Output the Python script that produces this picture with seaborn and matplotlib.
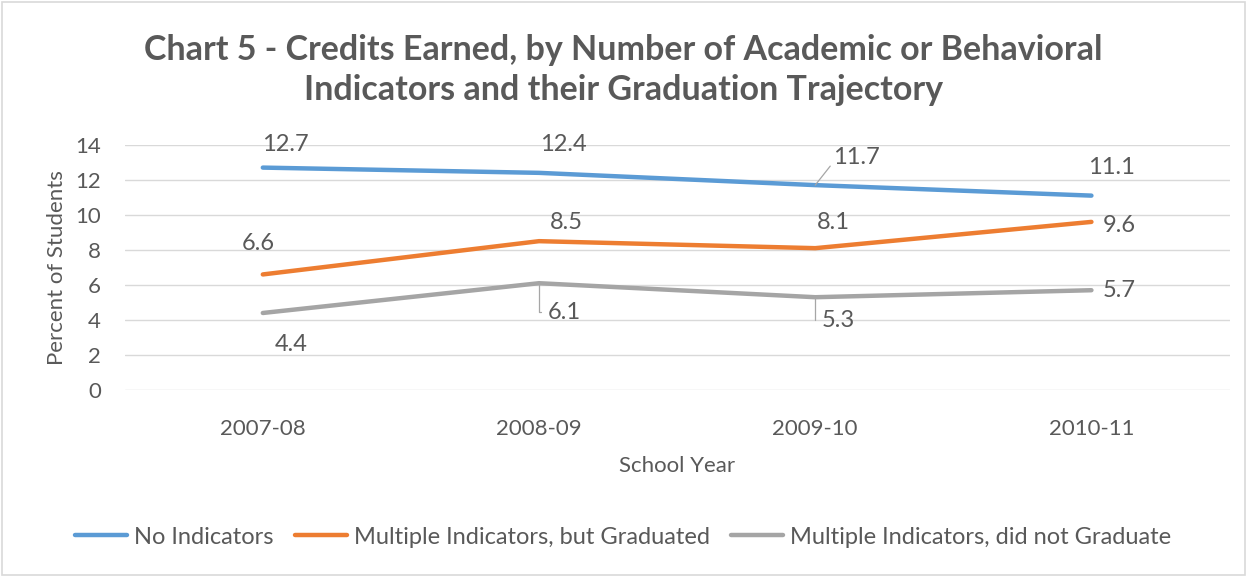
import pandas as pd
import matplotlib
matplotlib.use("Agg")
import matplotlib.pyplot as plt
import seaborn as sns

# data
years = ["2007-08", "2008-09", "2009-10", "2010-11"]
no_indicators = [12.7, 12.4, 11.7, 11.1]
multi_graduated = [6.6, 8.5, 8.1, 9.6]
multi_not_graduated = [4.4, 6.1, 5.3, 5.7]
series_names = ["No Indicators", "Multiple Indicators, but Graduated",
                "Multiple Indicators, did not Graduate"]
series_colors = ["#5B9BD5", "#ED7D31", "#A5A5A5"]

df = pd.DataFrame({
    "year": years * 3,
    "value": no_indicators + multi_graduated + multi_not_graduated,
    "series": [s for s in series_names for _ in years],
})

sns.set_theme(style="white")
plt.rcParams["font.family"] = ["Lato", "DejaVu Sans"]
text_color = "#595959"

fig = plt.figure(figsize=(12.47, 5.77), dpi=100)
ax = fig.add_axes([0.100, 0.324, 0.886, 0.425])

sns.lineplot(data=df, x="year", y="value", hue="series", palette=series_colors,
             linewidth=3.2, ax=ax, legend=True, sort=False)

ax.set_xlim(-0.5, 3.5)
ax.set_ylim(0, 14)
ax.set_yticks(range(0, 15, 2))
ax.yaxis.grid(True, color="#D9D9D9", linewidth=1)
ax.set_axisbelow(True)
for sp in ax.spines.values():
    sp.set_visible(False)
ax.tick_params(axis="both", length=0, labelsize=16, labelcolor=text_color)
ax.tick_params(axis="x", pad=21)
ax.tick_params(axis="y", pad=17)
ax.set_xlabel("School Year", fontsize=16, color=text_color, labelpad=12)
ax.set_ylabel("Percent of Students", fontsize=16, color=text_color, labelpad=6)

# data labels (pixel offsets from each point, leader flag)
label_offsets = {
    0: [(23, 23, False), (24, 28, False), (41, 28, True), (20, 28, False)],
    1: [(-4, 31, False), (27, 19, False), (18, 26, False), (28, -4, False)],
    2: [(28, -32, False), (25, -29, True), (23, -23, True), (28, 0, False)],
}
all_series = [no_indicators, multi_graduated, multi_not_graduated]
for si, vals in enumerate(all_series):
    for i, v in enumerate(vals):
        dx, dy, leader = label_offsets[si][i]
        ax.annotate(f"{v:.1f}", xy=(i, v), xytext=(dx, dy), textcoords="offset pixels",
                    ha="center", va="center", fontsize=17, color=text_color)
        if leader:
            if si == 0:
                ax.annotate("", xy=(i, v), xytext=(dx - 26, dy - 9),
                            textcoords="offset pixels",
                            arrowprops=dict(arrowstyle="-", color="#A6A6A6", lw=0.9,
                                            shrinkA=0, shrinkB=0))
            else:
                ax.annotate("", xy=(i, v), xytext=(dx - 23, dy),
                            textcoords="offset pixels",
                            arrowprops=dict(arrowstyle="-", color="#A6A6A6", lw=0.9,
                                            connectionstyle="angle,angleA=0,angleB=90,rad=0",
                                            shrinkA=0, shrinkB=0))

handles, labels = ax.get_legend_handles_labels()
ax.legend_.remove()
fig.legend(handles, labels, loc="center", bbox_to_anchor=(0.5, 0.069), ncol=3,
           frameon=False, fontsize=17, labelcolor=text_color, handlelength=2.2,
           handletextpad=0.3, columnspacing=0.9)

fig.text(0.5, 0.879, "Chart 5 - Credits Earned, by Number of Academic or Behavioral\n"
         "Indicators and their Graduation Trajectory",
         ha="center", va="center", fontsize=24.5, fontweight="bold", color=text_color,
         linespacing=1.3)

fig.patches.append(plt.Rectangle((0.002, 0.003), 0.996, 0.994, transform=fig.transFigure,
                                 fill=False, edgecolor="#D9D9D9", linewidth=1.2))

fig.savefig("out.png", dpi=100)
